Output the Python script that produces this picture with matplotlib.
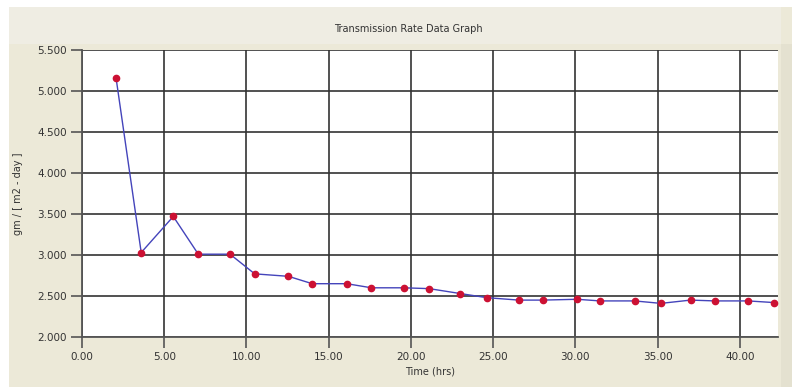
import matplotlib
matplotlib.use("Agg")
import matplotlib.pyplot as plt
from matplotlib.patches import Rectangle

time_hrs = [2.07, 3.6, 5.55, 7.07, 9.0, 10.5, 12.55, 14.0, 16.1, 17.6, 19.55, 21.1,
            23.0, 24.6, 26.55, 28.0, 30.1, 31.5, 33.6, 35.2, 37.0, 38.5, 40.5, 42.07]
rate = [5.16, 3.03, 3.47, 3.01, 3.01, 2.77, 2.74, 2.65, 2.65, 2.60, 2.60, 2.59,
        2.53, 2.48, 2.45, 2.45, 2.46, 2.44, 2.44, 2.41, 2.45, 2.44, 2.44, 2.42]
x_ticks = [0, 5, 10, 15, 20, 25, 30, 35, 40]
y_ticks = [2.0, 2.5, 3.0, 3.5, 4.0, 4.5, 5.0, 5.5]

W, H = 792, 390
fig = plt.figure(figsize=(W / 100, H / 100), dpi=100)
fig.patch.set_facecolor("white")

def px_rect(x0, y0, x1, y1, color, z=0):
    fig.patches.append(Rectangle((x0 / W, 1 - y1 / H), (x1 - x0) / W, (y1 - y0) / H,
                                 transform=fig.transFigure, facecolor=color,
                                 edgecolor="none", zorder=z))

px_rect(9, 7, 792, 387, "#ECE9D8", -2)
px_rect(9, 7, 781, 44, "#EFEDE3", -1)
px_rect(781, 44, 792, 387, "#E4E1D0", -1)

ax = fig.add_axes([82 / W, 1 - 337 / H, (777.7 - 82) / W, (337 - 50) / H])
ax.set_zorder(5)
ax.set_facecolor("white")
ax.plot(time_hrs, rate, color="#4444BB", lw=1.0, zorder=3, clip_on=False)
ax.plot(time_hrs, rate, ls="none", marker="o", ms=4.5, color="#CC1133",
        mec="#CC1133", zorder=4, clip_on=False)

ax.set_xlim(0, 42.3)
ax.set_ylim(2.0, 5.5)
ax.set_xticks(x_ticks)
ax.set_yticks(y_ticks)
ax.set_xticklabels([f"{v:.2f}" for v in x_ticks])
ax.set_yticklabels([f"{v:.3f}" for v in y_ticks])
ax.grid(True, color="#333333", lw=1.2)
ax.set_axisbelow(True)
for s in ["top", "right"]:
    ax.spines[s].set_visible(False)
for s in ["left", "bottom"]:
    ax.spines[s].set_color("#555555")
    ax.spines[s].set_linewidth(1.3)
ax.tick_params(direction="out", length=8, width=1.2, color="#555555",
               labelsize=7.5, labelcolor="#333333", pad=3)

ax.set_xlabel("Time (hrs)", fontsize=7, color="#333333", labelpad=3)
ax.set_ylabel("gm / [ m2 - day ]", fontsize=7, color="#333333", labelpad=10)
fig.text(0.515, 1 - 29 / H, "Transmission Rate Data Graph", ha="center", va="center",
         fontsize=7, color="#333333")

fig.savefig("out.png", dpi=100, facecolor=fig.get_facecolor())
